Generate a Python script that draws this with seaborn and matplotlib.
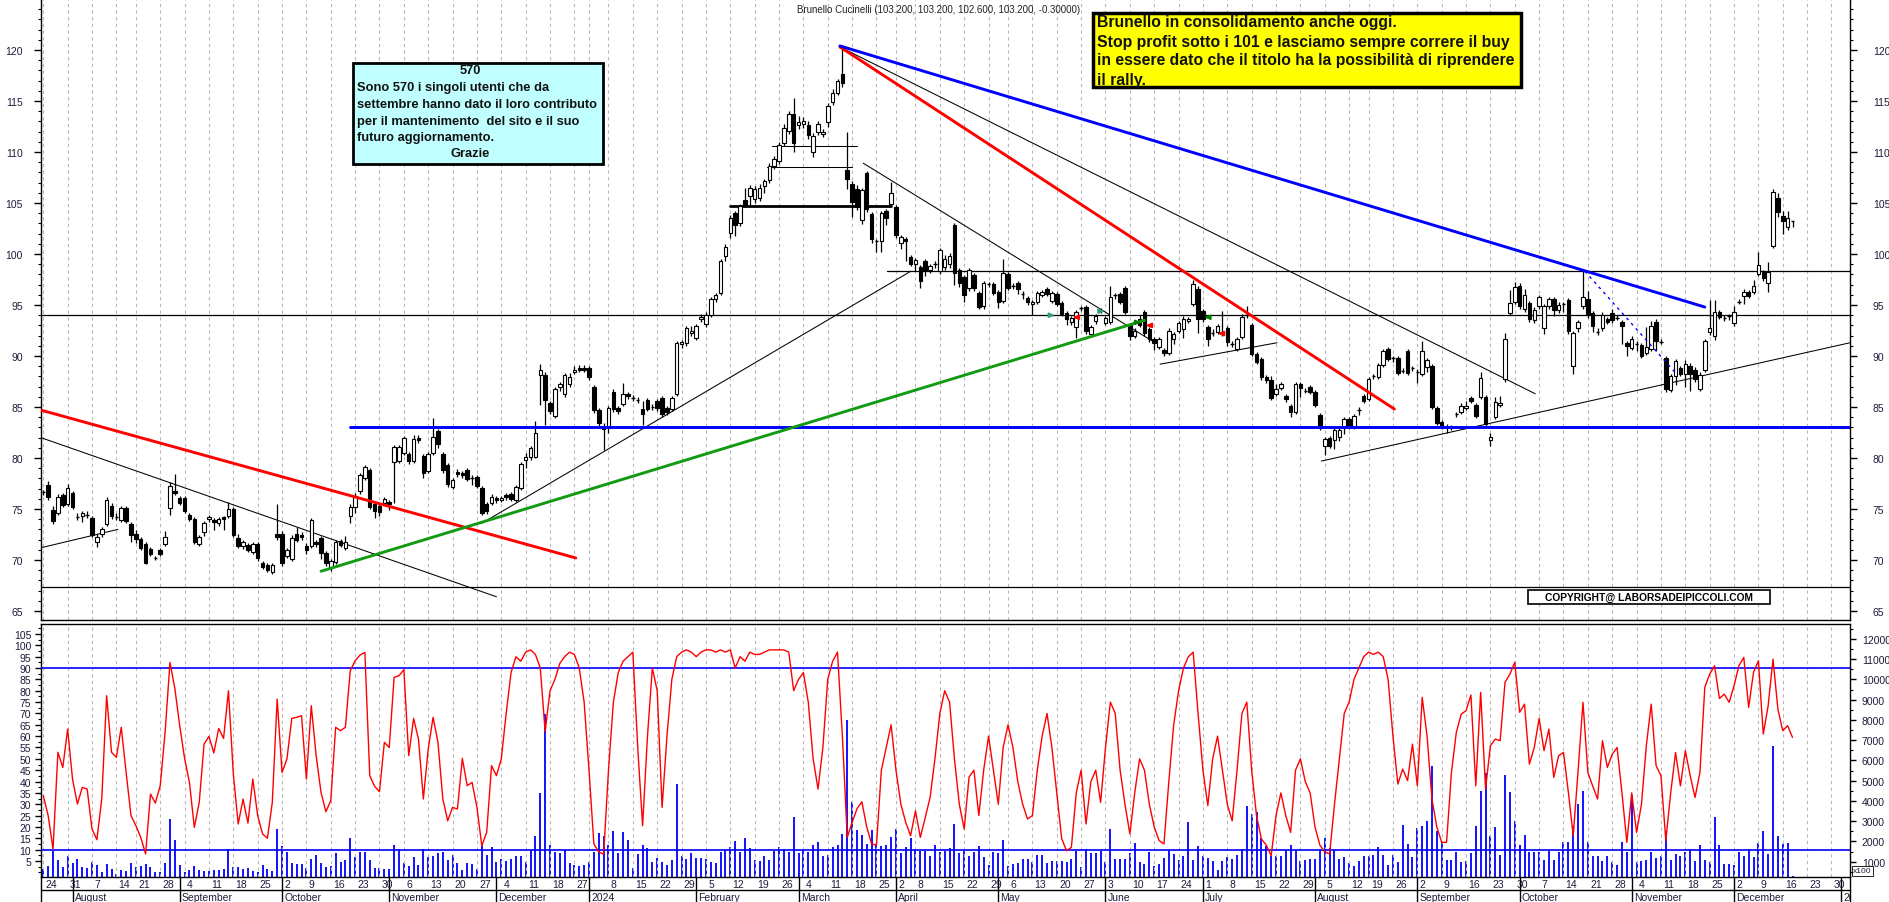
import numpy as np
import pandas as pd
import matplotlib
matplotlib.use("Agg")
import matplotlib.pyplot as plt
import seaborn as sns
from matplotlib.patches import Rectangle
from matplotlib.ticker import FixedLocator, MultipleLocator
from matplotlib import font_manager as fm

# ---------------- data ----------------
title_text = "Brunello Cucinelli (103.200, 103.200, 102.600, 103.200, -0.30000)"
holidays = ["2023-08-15", "2023-12-25", "2023-12-26", "2024-01-01",
            "2024-03-29", "2024-04-01", "2024-05-01", "2024-08-15"]
month_names = ["", "January", "February", "March", "April", "May", "June", "July",
               "August", "September", "October", "November", "December"]

opens = [
 76.6, 77.4, 74.9, 74.6, 76.4, 75.5, 76.6, 74.3, 74.3, 74.5,
 74.1, 71.8, 72.6, 73.5, 75.3, 74.3, 73.9, 75.1, 73.5, 72.6,
 72.1, 71.6, 71.1, 70.2, 71.0, 71.6, 75.1, 76.8, 76.1, 76.1,
 74.4, 74.0, 71.6, 72.7, 74.0, 73.9, 73.6, 74.2, 74.3, 75.0,
 72.2, 71.4, 71.5, 70.8, 71.6, 69.7, 69.5, 68.8, 72.6, 72.6,
 70.4, 70.1, 72.6, 72.5, 71.4, 71.4, 71.8, 72.2, 70.7, 69.3,
 69.8, 71.9, 71.2, 74.3, 75.2, 76.8, 78.0, 78.8, 75.5, 75.3,
 75.6, 75.7, 79.6, 79.7, 80.5, 80.4, 79.7, 82.0, 80.2, 78.7,
 80.5, 82.6, 80.4, 79.3, 77.2, 78.6, 78.5, 78.8, 78.1, 78.1,
 77.1, 75.5, 75.6, 76.1, 75.9, 76.4, 76.5, 75.9, 77.1, 79.8,
 80.1, 80.1, 88.1, 88.1, 85.4, 84.1, 87.0, 86.3, 87.3, 88.4,
 88.8, 88.8, 88.8, 87.0, 84.7, 82.8, 82.9, 86.5, 84.9, 85.3,
 86.3, 86.0, 85.8, 84.8, 85.7, 85.1, 85.6, 85.9, 84.9, 84.8,
 86.3, 91.2, 91.3, 92.3, 91.8, 93.6, 93.1, 94.0, 95.6, 96.2,
 99.8, 102.1, 104.0, 103.0, 105.3, 105.7, 105.4, 105.5, 106.7, 107.3,
 108.6, 109.1, 110.9, 112.1, 113.7, 112.6, 112.7, 112.6, 110.0, 112.0,
 111.8, 112.9, 114.9, 115.8, 117.6, 108.2, 106.9, 106.4, 103.3, 107.9,
 103.9, 101.2, 101.3, 104.2, 104.9, 104.6, 101.1, 101.5, 99.7, 99.0,
 98.7, 99.3, 98.4, 99.1, 98.3, 98.7, 99.0, 102.8, 98.4, 97.7,
 96.7, 97.9, 96.2, 94.9, 97.0, 97.1, 96.3, 95.4, 98.0, 97.0,
 97.2, 96.2, 95.7, 95.1, 95.3, 96.0, 96.6, 95.4, 96.1, 95.2,
 94.2, 93.3, 92.8, 94.6, 94.8, 92.2, 93.4, 94.5, 93.2, 93.3,
 95.9, 96.1, 96.7, 93.0, 92.0, 93.6, 94.3, 92.6, 91.7, 90.9,
 90.6, 90.3, 91.7, 92.5, 92.6, 93.4, 95.1, 96.6, 94.4, 92.8,
 92.4, 92.4, 92.4, 92.7, 91.3, 90.7, 91.9, 94.1, 93.0, 90.2,
 89.7, 87.9, 87.6, 86.3, 86.9, 86.1, 85.1, 84.5, 87.3, 86.7,
 87.0, 86.5, 84.2, 81.2, 82.0, 81.8, 82.1, 83.0, 83.8, 83.0,
 84.6, 86.1, 85.8, 87.9, 87.9, 89.1, 90.7, 89.7, 89.8, 88.6,
 90.5, 88.7, 88.5, 88.2, 88.9, 89.0, 84.9, 83.5, 83.1, 82.9,
 84.2, 84.5, 84.9, 85.9, 85.2, 86.0, 86.0, 81.8, 84.0, 85.2,
 87.7, 94.2, 95.3, 96.9, 94.6, 95.2, 93.5, 94.9, 92.7, 94.9,
 95.6, 94.5, 95.0, 95.5, 89.0, 92.7, 94.9, 95.6, 94.2, 92.5,
 92.7, 93.6, 94.2, 93.8, 93.3, 91.3, 90.8, 91.3, 91.1, 90.3,
 90.7, 93.3, 91.5, 89.8, 86.7, 88.0, 88.8, 88.2, 89.0, 88.6,
 86.8, 88.6, 92.4, 92.0, 94.3, 93.8, 93.8, 93.2, 95.4, 95.9,
 96.3, 96.3, 98.0, 98.2, 97.2, 100.8, 105.5, 103.7, 102.6, 103.2]

highs = [
 76.9, 77.7, 75.3, 76.5, 76.6, 77.5, 76.8, 74.6, 74.8, 74.8,
 74.3, 72.6, 73.2, 76.2, 75.6, 74.6, 75.3, 75.3, 73.7, 72.9,
 72.3, 71.8, 71.3, 70.4, 71.2, 72.8, 77.6, 78.4, 76.3, 76.3,
 74.6, 74.2, 72.5, 73.8, 74.4, 74.1, 74.2, 74.3, 75.7, 75.2,
 72.6, 72.0, 71.7, 71.8, 71.8, 69.9, 69.7, 69.7, 75.5, 72.8,
 71.2, 72.5, 73.2, 72.7, 71.7, 74.1, 72.0, 72.4, 70.9, 70.1,
 72.0, 72.1, 72.4, 75.5, 76.6, 78.5, 79.3, 79.0, 75.7, 75.5,
 76.2, 75.9, 81.3, 81.3, 82.2, 80.6, 82.3, 82.3, 80.4, 80.6,
 83.9, 82.8, 80.6, 79.5, 78.0, 78.9, 78.7, 79.0, 78.3, 78.3,
 77.3, 75.7, 76.5, 76.3, 76.3, 76.6, 76.7, 77.4, 79.6, 80.5,
 81.2, 83.6, 89.2, 88.4, 85.6, 87.0, 87.5, 88.3, 88.3, 89.0,
 89.1, 89.1, 89.0, 87.2, 84.9, 83.4, 85.1, 86.8, 85.1, 87.4,
 86.5, 86.2, 86.0, 85.6, 85.9, 85.3, 85.8, 86.1, 85.1, 86.1,
 91.5, 91.6, 92.9, 92.9, 93.1, 94.1, 94.3, 95.8, 96.2, 99.5,
 101.0, 103.8, 104.2, 104.9, 106.5, 106.8, 106.7, 106.9, 107.4, 108.9,
 109.6, 111.0, 112.7, 114.0, 115.3, 113.5, 113.4, 113.0, 111.9, 113.0,
 112.3, 114.8, 116.2, 117.2, 120.5, 112.0, 107.2, 106.8, 106.5, 108.1,
 104.1, 101.5, 104.2, 104.4, 107.1, 104.8, 101.9, 101.7, 99.9, 99.6,
 98.9, 99.5, 99.0, 99.3, 100.6, 99.9, 100.1, 103.0, 98.6, 97.9,
 98.6, 98.1, 96.4, 97.4, 97.3, 97.3, 96.5, 99.5, 98.2, 97.2,
 97.4, 96.4, 95.9, 95.5, 96.4, 96.5, 96.8, 96.4, 96.3, 95.4,
 94.4, 93.9, 94.5, 94.9, 95.0, 93.0, 94.1, 94.7, 93.9, 96.9,
 96.2, 96.3, 96.9, 93.2, 92.7, 94.0, 94.5, 92.8, 91.9, 91.9,
 90.8, 92.7, 92.4, 93.4, 93.9, 93.8, 97.5, 96.9, 94.6, 93.0,
 92.6, 93.1, 94.4, 92.9, 91.5, 91.9, 94.1, 94.9, 93.2, 90.4,
 89.9, 88.1, 88.0, 87.3, 87.5, 86.3, 85.3, 87.5, 87.5, 86.9,
 87.2, 86.7, 84.4, 82.1, 82.2, 82.9, 82.9, 84.0, 84.0, 84.3,
 85.0, 86.3, 87.9, 88.2, 89.3, 90.7, 90.9, 90.0, 90.0, 88.8,
 90.7, 89.0, 88.7, 91.5, 89.8, 89.2, 85.1, 83.7, 83.3, 83.2,
 84.5, 85.4, 85.6, 86.1, 85.4, 88.4, 86.2, 82.5, 86.0, 86.1,
 92.3, 96.5, 97.3, 97.2, 96.6, 95.4, 94.8, 96.0, 95.1, 95.8,
 95.8, 95.3, 95.3, 95.7, 92.5, 93.5, 98.3, 96.4, 94.4, 92.7,
 94.3, 93.8, 94.6, 94.0, 93.5, 91.5, 92.0, 91.5, 91.3, 92.8,
 93.4, 93.6, 91.7, 90.0, 88.2, 89.7, 89.0, 89.6, 89.3, 88.9,
 88.4, 91.7, 95.5, 95.5, 94.5, 94.0, 94.1, 94.9, 95.6, 96.6,
 96.5, 97.5, 100.2, 98.4, 99.2, 106.4, 106.0, 104.2, 104.2, 103.2]

lows = [
 76.4, 75.9, 73.5, 74.4, 75.2, 75.3, 75.0, 73.9, 73.7, 74.1,
 72.3, 71.3, 72.3, 73.3, 74.0, 73.9, 73.7, 73.6, 71.8, 71.7,
 71.0, 69.6, 70.4, 70.0, 70.4, 71.4, 74.4, 76.4, 75.4, 74.6,
 73.8, 71.6, 71.4, 72.4, 73.7, 72.9, 73.3, 72.9, 74.1, 72.3,
 71.2, 71.1, 70.8, 70.6, 69.9, 69.1, 68.8, 68.6, 72.0, 69.4,
 70.2, 69.9, 71.8, 72.0, 70.6, 71.2, 71.3, 70.1, 69.4, 68.9,
 69.6, 71.3, 71.0, 73.6, 74.6, 76.5, 77.8, 75.0, 74.1, 74.3,
 75.4, 74.9, 75.6, 79.5, 80.3, 79.4, 79.5, 81.5, 78.0, 78.5,
 80.3, 81.0, 78.5, 77.2, 77.0, 78.1, 78.0, 77.7, 77.4, 77.1,
 74.4, 74.5, 75.4, 75.6, 75.7, 75.9, 75.8, 75.7, 76.9, 79.0,
 79.8, 80.0, 85.2, 83.2, 84.3, 83.9, 86.6, 86.0, 87.0, 88.2,
 88.4, 88.4, 87.6, 84.4, 83.1, 80.8, 82.5, 84.5, 84.3, 85.1,
 85.8, 85.6, 85.4, 83.2, 84.6, 84.7, 84.6, 84.0, 84.2, 84.6,
 86.1, 90.8, 91.0, 92.0, 91.6, 93.3, 92.8, 93.8, 95.3, 96.0,
 99.3, 101.6, 101.8, 102.7, 104.6, 104.7, 105.0, 105.2, 106.0, 107.0,
 108.3, 108.8, 110.6, 111.8, 110.0, 112.3, 112.4, 111.3, 109.5, 111.7,
 111.5, 112.5, 114.6, 115.6, 116.4, 106.4, 103.6, 104.3, 102.9, 104.1,
 101.1, 100.2, 100.2, 102.8, 104.7, 101.6, 100.5, 99.3, 98.8, 98.3,
 96.7, 97.8, 98.1, 98.6, 98.0, 98.4, 98.6, 97.0, 96.8, 95.3,
 96.4, 96.4, 94.6, 94.6, 96.8, 96.0, 94.7, 95.2, 96.5, 96.6,
 96.1, 95.6, 95.0, 94.0, 95.1, 95.8, 95.9, 95.2, 94.9, 93.9,
 93.0, 93.0, 91.8, 94.4, 92.2, 92.0, 93.1, 94.2, 93.0, 93.1,
 95.6, 95.1, 94.1, 91.6, 91.8, 92.8, 92.0, 91.4, 90.6, 90.7,
 90.0, 90.1, 91.2, 92.3, 91.8, 93.2, 94.9, 92.3, 93.3, 91.0,
 92.0, 92.2, 92.0, 91.0, 90.9, 90.5, 91.7, 93.7, 90.0, 89.2,
 87.6, 87.4, 85.7, 86.1, 86.7, 85.5, 84.0, 84.3, 86.0, 86.4,
 86.3, 85.0, 82.7, 80.3, 81.0, 80.9, 81.7, 82.4, 82.8, 82.8,
 84.2, 85.4, 85.6, 87.7, 87.7, 88.9, 89.5, 89.4, 88.1, 88.3,
 88.1, 88.5, 87.4, 88.0, 88.4, 84.8, 83.2, 82.8, 82.5, 82.7,
 84.0, 84.3, 84.7, 85.4, 83.9, 85.8, 83.1, 81.2, 83.8, 85.0,
 87.5, 94.0, 95.1, 94.6, 94.3, 93.3, 93.2, 94.6, 92.2, 94.6,
 93.9, 94.2, 94.3, 92.2, 88.2, 92.4, 94.6, 93.7, 92.4, 92.1,
 92.5, 93.1, 93.2, 93.5, 91.2, 90.0, 90.6, 90.5, 89.8, 90.1,
 90.5, 90.5, 91.2, 86.5, 86.5, 87.2, 88.0, 87.0, 86.6, 87.5,
 86.6, 88.4, 92.1, 91.6, 93.6, 93.4, 93.5, 92.9, 95.1, 95.1,
 95.7, 96.1, 97.8, 97.4, 96.3, 100.6, 103.6, 102.0, 102.4, 102.6]

closes = [
 76.7, 76.2, 73.8, 76.2, 75.4, 77.1, 75.2, 74.2, 74.6, 74.4,
 72.5, 72.3, 73.0, 75.9, 74.3, 74.2, 75.1, 73.8, 72.5, 72.1,
 71.2, 69.7, 70.6, 70.2, 70.6, 72.3, 77.3, 76.6, 75.6, 74.8,
 74.0, 71.8, 72.3, 73.6, 74.2, 73.7, 74.0, 74.0, 75.0, 72.5,
 71.4, 71.8, 71.0, 71.6, 70.2, 69.3, 69.0, 69.5, 72.3, 69.7,
 71.0, 72.2, 72.0, 72.3, 71.0, 73.9, 71.6, 70.7, 69.7, 69.9,
 71.8, 71.5, 71.8, 75.2, 76.3, 78.3, 79.1, 75.2, 74.8, 74.7,
 76.0, 75.5, 81.1, 81.1, 82.0, 79.7, 81.9, 81.8, 78.5, 80.4,
 82.1, 81.4, 78.8, 77.5, 77.8, 78.4, 78.3, 77.9, 78.0, 77.3,
 74.6, 74.8, 76.2, 75.9, 76.1, 76.2, 76.0, 77.2, 79.4, 80.1,
 81.0, 82.5, 88.6, 85.7, 84.6, 86.8, 87.3, 88.1, 87.9, 88.6,
 88.6, 88.6, 87.9, 84.7, 83.4, 83.0, 84.9, 84.8, 84.6, 86.3,
 86.1, 85.9, 85.7, 84.3, 84.8, 85.0, 84.9, 84.3, 84.5, 85.9,
 91.3, 91.4, 92.7, 92.5, 92.9, 93.8, 94.0, 95.6, 96.0, 99.3,
 100.7, 103.5, 102.8, 104.7, 104.8, 106.5, 106.4, 106.5, 107.2, 108.6,
 109.3, 110.7, 112.4, 113.7, 110.9, 112.9, 113.0, 111.7, 111.6, 112.7,
 112.0, 114.5, 115.8, 117.0, 116.8, 107.4, 105.1, 104.6, 106.3, 104.4,
 101.5, 101.3, 104.0, 103.5, 106.0, 101.9, 101.7, 101.3, 99.0, 99.4,
 97.4, 98.4, 98.8, 99.0, 100.4, 99.5, 99.8, 98.1, 97.2, 96.0,
 98.4, 96.7, 94.8, 97.2, 97.1, 96.2, 95.3, 98.1, 96.7, 96.9,
 96.6, 96.1, 95.3, 95.3, 96.2, 96.3, 96.1, 96.2, 95.1, 94.1,
 93.6, 93.7, 94.3, 94.7, 92.5, 92.8, 93.9, 94.4, 93.7, 95.8,
 96.0, 95.3, 94.3, 92.0, 92.5, 93.0, 92.3, 91.7, 91.3, 91.7,
 90.3, 92.5, 92.2, 93.2, 93.6, 93.6, 97.1, 93.6, 93.6, 91.7,
 92.3, 92.9, 92.3, 91.4, 91.2, 91.7, 93.8, 94.0, 90.2, 89.4,
 87.9, 87.6, 85.9, 86.8, 87.3, 85.8, 84.5, 87.3, 86.9, 86.6,
 86.5, 85.2, 82.9, 81.9, 81.2, 82.7, 82.7, 83.8, 83.0, 84.1,
 84.7, 85.6, 87.7, 88.0, 89.1, 90.5, 89.7, 89.8, 88.3, 88.5,
 88.3, 88.8, 88.4, 90.5, 89.6, 85.0, 83.4, 83.0, 83.0, 83.0,
 84.3, 85.1, 85.1, 85.6, 84.1, 87.8, 83.3, 82.1, 85.5, 85.4,
 91.7, 95.2, 96.8, 94.9, 96.0, 93.6, 94.5, 95.8, 94.9, 95.6,
 94.5, 95.0, 95.1, 92.5, 92.3, 93.3, 95.8, 94.0, 92.9, 92.4,
 94.0, 93.3, 93.5, 93.7, 92.9, 91.0, 91.7, 91.2, 90.0, 90.9,
 92.9, 91.5, 91.4, 86.8, 88.0, 89.5, 88.2, 89.2, 88.2, 87.7,
 88.1, 91.5, 92.7, 94.3, 93.8, 93.7, 93.9, 94.3, 95.3, 96.3,
 95.9, 96.9, 98.9, 97.6, 98.2, 106.1, 104.1, 103.2, 103.5, 103.2]

oscillator = [
 33.8, 25.0, 10.3, 52.9, 46.2, 63.1, 41.1, 30.1, 37.4, 36.7,
 19.1, 14.4, 32.3, 77.8, 52.9, 50.7, 63.9, 44.0, 25.0, 20.6,
 15.4, 8.1, 34.5, 30.5, 38.2, 61.7, 92.5, 81.0, 64.6, 50.2,
 39.6, 19.8, 30.8, 56.5, 59.9, 52.6, 63.4, 59.0, 80.0, 43.3,
 21.3, 32.3, 21.7, 41.1, 25.0, 16.9, 15.0, 30.8, 76.3, 44.0,
 49.9, 67.8, 68.3, 69.0, 41.1, 73.4, 51.4, 35.2, 26.7, 31.6,
 63.9, 62.4, 63.9, 88.8, 93.2, 95.7, 96.9, 42.6, 37.9, 35.5,
 57.3, 55.0, 85.9, 86.6, 89.3, 51.4, 67.8, 58.7, 32.3, 54.3,
 68.3, 57.3, 32.3, 22.7, 28.6, 27.9, 50.2, 38.2, 39.6, 28.6,
 11.7, 17.6, 47.0, 42.6, 50.0, 70.0, 88.0, 95.0, 93.0, 97.0,
 98.0, 96.0, 90.0, 62.0, 80.0, 85.0, 92.0, 95.0, 97.0, 96.0,
 90.0, 75.0, 45.0, 12.5, 9.0, 8.0, 45.0, 75.0, 88.0, 93.0,
 95.0, 97.0, 55.0, 20.5, 60.0, 90.0, 80.0, 28.6, 60.0, 85.0,
 95.0, 97.0, 98.0, 97.0, 95.0, 97.0, 98.0, 98.0, 97.0, 98.0,
 97.0, 98.0, 90.0, 95.0, 93.0, 97.0, 96.0, 96.0, 97.0, 98.0,
 98.0, 98.0, 98.0, 97.0, 80.0, 85.0, 88.0, 75.0, 50.0, 36.7,
 55.0, 85.0, 93.0, 97.0, 60.0, 15.4, 22.0, 28.0, 31.1, 20.0,
 12.5, 12.0, 45.0, 55.0, 65.0, 45.0, 30.1, 22.0, 16.1, 27.1,
 15.4, 24.0, 33.0, 50.0, 70.0, 80.0, 75.0, 50.0, 30.0, 19.1,
 42.0, 45.0, 25.0, 45.0, 60.0, 45.0, 30.0, 55.0, 65.0, 55.0,
 40.0, 30.0, 23.5, 25.0, 45.0, 60.0, 70.0, 55.0, 35.0, 15.0,
 9.5, 11.0, 35.0, 45.0, 21.3, 40.0, 45.0, 30.8, 55.0, 75.0,
 70.0, 45.0, 30.0, 16.9, 35.0, 50.0, 45.0, 30.0, 20.0, 14.0,
 12.5, 40.0, 65.0, 80.0, 90.0, 95.0, 97.0, 70.0, 45.0, 29.4,
 50.0, 60.0, 45.0, 30.0, 22.7, 45.0, 70.0, 75.0, 45.0, 25.0,
 14.7, 12.0, 7.3, 25.0, 35.0, 25.0, 17.6, 45.0, 50.0, 40.0,
 35.0, 20.0, 12.0, 9.0, 8.1, 30.0, 50.0, 70.0, 75.0, 85.0,
 90.0, 95.0, 97.0, 96.0, 97.0, 95.0, 85.0, 60.0, 38.9, 45.5,
 40.4, 56.5, 38.1, 77.1, 60.0, 32.3, 20.0, 13.2, 13.2, 44.0,
 61.6, 69.7, 71.2, 78.1, 38.1, 79.3, 36.7, 55.8, 58.7, 58.0,
 83.7, 87.3, 92.5, 70.5, 74.1, 47.7, 55.0, 67.8, 53.6, 63.1,
 41.8, 51.4, 52.8, 35.2, 16.1, 45.0, 74.9, 44.0, 38.0, 32.3,
 58.0, 46.2, 52.0, 55.0, 35.0, 13.2, 35.0, 17.6, 30.0, 55.8,
 74.1, 47.0, 42.6, 14.0, 35.0, 52.8, 38.1, 53.6, 42.6, 33.0,
 44.0, 81.5, 87.3, 91.0, 76.6, 78.5, 74.9, 82.2, 91.0, 94.7,
 72.7, 88.1, 93.2, 60.9, 73.4, 93.9, 71.9, 62.4, 64.6, 59.4]

volume = [
 634, 800, 1540, 1080, 720, 1290, 930, 1130, 720, 670,
 960, 830, 500, 880, 630, 390, 600, 550, 920, 750,
 770, 880, 720, 470, 500, 930, 3110, 2090, 830, 500,
 600, 770, 600, 550, 550, 600, 600, 630, 1620, 720,
 720, 630, 670, 550, 500, 830, 630, 550, 2610, 1790,
 1490, 930, 880, 880, 670, 1130, 1330, 930, 750, 770,
 1430, 1000, 1100, 2170, 1240, 1460, 1460, 1080, 670, 690,
 630, 630, 1820, 1620, 930, 800, 1240, 850, 1620, 1240,
 1290, 1430, 1490, 1080, 1330, 930, 600, 930, 880, 630,
 1920, 1330, 1700, 960, 1130, 1050, 1130, 1260, 1260, 960,
 1590, 2250, 4390, 8300, 1820, 1490, 1430, 1590, 930, 830,
 770, 830, 1000, 1460, 2420, 2250, 1820, 2510, 1430, 2480,
 2090, 670, 1380, 1820, 1670, 1000, 1180, 1000, 850, 1100,
 4840, 1260, 1130, 1430, 1180, 1180, 1130, 1000, 930, 1490,
 1590, 1710, 2040, 1490, 2150, 1660, 1100, 1050, 1260, 1100,
 1540, 1710, 1630, 1490, 3190, 1430, 1590, 1490, 1820, 1950,
 1260, 1330, 1710, 1820, 2370, 8000, 3960, 2580, 2320, 1870,
 2580, 1820, 1760, 1820, 2200, 2610, 1430, 1710, 2150, 1590,
 1540, 1540, 1260, 1820, 1490, 1540, 1660, 2860, 1430, 1540,
 1260, 1490, 1790, 1210, 830, 1490, 1430, 2090, 770, 880,
 930, 1130, 1130, 960, 1330, 1330, 930, 1050, 1050, 1050,
 1000, 1130, 1540, 720, 1630, 1430, 1430, 1540, 960, 2610,
 1130, 1130, 1130, 1430, 1920, 1000, 880, 1490, 770, 880,
 1160, 1590, 1380, 1100, 1260, 2980, 1100, 1790, 1260, 1160,
 1050, 600, 1050, 1210, 1130, 1330, 1630, 3770, 3350, 3470,
 2150, 1760, 1300, 1260, 1260, 1590, 1820, 1590, 1050, 1100,
 1130, 1130, 1590, 2150, 1660, 1590, 1130, 1210, 930, 770,
 1050, 1260, 1260, 1330, 1710, 1330, 830, 1330, 1000, 2810,
 1870, 1210, 2650, 2740, 3000, 5740, 2530, 2040, 1100, 1100,
 1490, 960, 1050, 1430, 2740, 4510, 5380, 2280, 2690, 1330,
 5280, 4420, 3030, 1820, 2320, 1490, 1460, 1460, 1100, 1540,
 1100, 1460, 1950, 1950, 2780, 3850, 4500, 1950, 1260, 1260,
 1050, 1260, 1000, 830, 1950, 1490, 4290, 1000, 1050, 1100,
 1460, 1200, 1300, 2500, 1100, 1400, 1300, 1500, 1600, 1050,
 1800, 1100, 1000, 3200, 1800, 900, 900, 850, 1500, 1300,
 1600, 1250, 1900, 2500, 1400, 6700, 2250, 1850, 1900, 300]

# drawn trend lines: (x0, y0, x1, y1) in (trading-day index, price)
red_lines = [(-0.5, 84.7, 109.3, 70.2), (163.5, 120.3, 277.3, 84.8)]
blue_lines = [(62.9, 83.0, 370.8, 83.0), (163.5, 120.4, 341.0, 94.8)]
green_lines = [(57.0, 68.9, 226.0, 93.5)]
thin_black_lines = [(-0.5, 82.0, 93.0, 66.4), (-0.5, 71.2, 15.3, 73.0),
                    (90.0, 73.6, 178.0, 98.3), (163.5, 120.3, 306.2, 86.3),
                    (168.3, 108.9, 227.5, 91.5), (229.2, 89.2, 253.2, 91.3),
                    (262.3, 79.7, 370.8, 91.3), (148.5, 108.5, 166.0, 108.5),
                    (149.5, 110.6, 167.0, 110.6)]
level_lines = [(-0.5, 94.0, 370.8, 94.0), (173.2, 98.3, 370.8, 98.3),
               (-0.5, 67.4, 370.8, 67.4)]
thick_black_lines = [(141.0, 104.7, 174.0, 104.7)]
dotted_blue_lines = [(316.4, 98.3, 334.9, 88.4)]
arrows = [(207.1, 94.0, 1, "#30a080"), (211.8, 93.8, -1, "red"),
          (217.3, 94.4, 1, "#30a080"), (224.8, 93.3, 1, "green"),
          (226.8, 93.0, -1, "red"), (238.8, 93.8, -1, "green"),
          (241.6, 92.2, -1, "red")]
osc_levels = [90, 10]

# ---------------- figure ----------------
sns.set_theme(style="white")
plt.rcParams["font.family"] = ["Liberation Sans", "DejaVu Sans"]
names = {f.name for f in fm.fontManager.ttflist}
NARROW = "Liberation Sans Narrow" if "Liberation Sans Narrow" in names else "Liberation Sans"

W, H = 1890, 903
fig = plt.figure(figsize=(W / 100, H / 100), dpi=100)
fig.patch.set_facecolor("white")


def px_axes(x0, y0, x1, y1):
    return fig.add_axes([x0 / W, 1 - y1 / H, (x1 - x0) / W, (y1 - y0) / H])


XMIN, XMAX = -0.47, 370.8
ax = px_axes(41, 0, 1850, 621)
axl = px_axes(41, 625, 1850, 878.3)
axd = px_axes(41, 878.3, 1850, 903)

# calendar of trading days (index axis)
past = pd.bdate_range("2023-07-24", "2024-12-18")
past = past[~past.isin(pd.to_datetime(holidays))]
future = pd.bdate_range("2024-12-19", "2025-01-20")
days = past.append(future)
pos = pd.Series(np.arange(len(days)), index=days)
week_first = pos.groupby(days.to_period("W-SUN")).min()
month_first = pos.groupby(days.to_period("M")).min()

LABEL_COLOR = "#1c1c3a"
GRID_COLOR = "#b8b8b8"

for a in (ax, axl):
    a.set_xlim(XMIN, XMAX)
    a.set_facecolor("white")
    for s in a.spines.values():
        s.set_color("black")
        s.set_linewidth(1.0)
    a.tick_params(axis="x", which="both", bottom=False, top=False,
                  labelbottom=False)
    for w in week_first.values:
        if XMIN < w < XMAX:
            a.axvline(w, color=GRID_COLOR, lw=0.8, dashes=(3, 3), zorder=0)

# ---------- main price panel ----------
ax.set_ylim(64.12, 125.0)
ax.spines["top"].set_visible(False)
ax.yaxis.set_major_locator(FixedLocator(list(range(65, 121, 5))))
ax.yaxis.set_minor_locator(MultipleLocator(1))
ax.tick_params(axis="y", which="major", left=True, right=False, labelleft=True,
               direction="out", length=5, width=1, color="black",
               labelsize=7.5, labelcolor=LABEL_COLOR, pad=8)
ax.tick_params(axis="y", which="minor", left=True, right=False,
               direction="out", length=2.5, width=0.8, color="black")
ax2 = ax.twinx()
ax2.set_ylim(ax.get_ylim())
ax2.set_xlim(XMIN, XMAX)
for s in ax2.spines.values():
    s.set_visible(False)
ax2.yaxis.set_major_locator(FixedLocator(list(range(65, 121, 5))))
ax2.yaxis.set_minor_locator(MultipleLocator(1))
ax2.tick_params(axis="y", which="major", right=True, left=False, labelright=True,
                direction="out", length=5, width=1, color="black",
                labelsize=7.5, labelcolor=LABEL_COLOR, pad=11.5)
ax2.tick_params(axis="y", which="minor", right=True, direction="out",
                length=2.5, width=0.8, color="black")
ax2.grid(False)

o = np.array(opens); hi = np.array(highs); lo = np.array(lows); c = np.array(closes)
idx = np.arange(len(c))
ax.vlines(idx, lo, hi, color="black", lw=0.9, zorder=4)
for i in idx:
    b = min(o[i], c[i]); hgt = abs(c[i] - o[i])
    if hgt < 0.12:
        ax.hlines(c[i], i - 0.36, i + 0.36, color="black", lw=1.0, zorder=5)
    else:
        ax.add_patch(Rectangle((i - 0.36, b), 0.72, hgt,
                               facecolor="white" if c[i] > o[i] else "black",
                               edgecolor="black", lw=0.8, zorder=5))

for (x0, y0, x1, y1) in level_lines:
    ax.plot([x0, x1], [y0, y1], color="black", lw=0.9, zorder=2)
for (x0, y0, x1, y1) in thin_black_lines:
    ax.plot([x0, x1], [y0, y1], color="black", lw=0.75, zorder=3)
for (x0, y0, x1, y1) in thick_black_lines:
    ax.plot([x0, x1], [y0, y1], color="black", lw=2.0, zorder=3)
for (x0, y0, x1, y1) in red_lines:
    ax.plot([x0, x1], [y0, y1], color="#ff0000", lw=2.1, zorder=6)
for (x0, y0, x1, y1) in blue_lines:
    ax.plot([x0, x1], [y0, y1], color="#0000ff", lw=2.1, zorder=6)
for (x0, y0, x1, y1) in green_lines:
    ax.plot([x0, x1], [y0, y1], color="#139a13", lw=2.1, zorder=6)
for (x0, y0, x1, y1) in dotted_blue_lines:
    ax.plot([x0, x1], [y0, y1], color="#0000ff", lw=1.0, dashes=(2, 3), zorder=6)
for (xa, ya, d, col) in arrows:
    ax.annotate("", xy=(xa + d * 1.0, ya), xytext=(xa - d * 1.0, ya),
                arrowprops=dict(arrowstyle="-|>", color=col, lw=1.6,
                                mutation_scale=6), zorder=7)

# ---------- oscillator / volume panel ----------
axl.set_ylim(-2.18, 109.4)
axl.yaxis.set_major_locator(FixedLocator(list(range(5, 106, 5))))
axl.yaxis.set_minor_locator(MultipleLocator(2.5))
axl.tick_params(axis="y", which="major", left=True, right=False, labelleft=True,
                direction="out", length=4, width=1, color="black",
                labelsize=7.5, labelcolor=LABEL_COLOR, pad=3)
axl.tick_params(axis="y", which="minor", left=True, right=False,
                direction="out", length=2, width=0.8, color="black")
axr = axl.twinx()
axr.set_xlim(XMIN, XMAX)
axr.set_ylim(226, 12741)
for s in axr.spines.values():
    s.set_visible(False)
axr.yaxis.set_major_locator(FixedLocator(list(range(1000, 12001, 1000))))
axr.yaxis.set_minor_locator(MultipleLocator(500))
axr.tick_params(axis="y", which="major", right=True, left=False, labelright=True,
                direction="out", length=4, width=1, color="black",
                labelsize=7.5, labelcolor=LABEL_COLOR, pad=4.5)
axr.tick_params(axis="y", which="minor", right=True, direction="out",
                length=2, width=0.8, color="black")
axr.grid(False)

vidx = np.arange(len(volume))
axr.vlines(vidx, 0, volume, color="#0000ff", lw=1.3, zorder=2)
for lv in osc_levels:
    axl.axhline(lv, color="#0000ff", lw=1.2, zorder=3)
axl.set_zorder(axr.get_zorder() + 1)
axl.patch.set_visible(False)
sns.lineplot(x=np.arange(len(oscillator)), y=oscillator, ax=axl,
             color="#ff0000", lw=1.0, zorder=4)
axl.set_xlabel(""); axl.set_ylabel("")
axl.set_xlim(XMIN, XMAX)

# ---------- date rows ----------
axd.set_xlim(XMIN, XMAX)
axd.set_ylim(0, 1)
axd.axis("off")
axd.plot([XMIN, XMAX], [0.5, 0.5], color="black", lw=1.0, clip_on=False)
axd.plot([XMIN, XMIN], [0, 1], color="black", lw=1.0, clip_on=False)
axd.plot([XMAX, XMAX], [0, 1], color="black", lw=1.0, clip_on=False)
for d, w in week_first.items():
    if not (XMIN <= w < XMAX):
        continue
    dt = days[w]
    if dt.month == 1 and dt.day <= 3 and dt.year == 2024:
        continue
    axd.text(w + 0.45, 0.74, str(dt.day), ha="left", va="center",
             fontsize=7.5, color=LABEL_COLOR, clip_on=True)
for m, w in month_first.items():
    if not (0 < w < XMAX):
        continue
    dt = days[w]
    axd.plot([w, w], [0, 1], color="black", lw=1.0)
    lab = str(dt.year) if dt.month == 1 else month_names[dt.month]
    axd.text(w + 0.45, 0.2, lab, ha="left", va="center", fontsize=7.5,
             color=LABEL_COLOR, clip_on=True)

fig.text(1853 / W, 1 - 872 / H, "x100", fontsize=6, color=LABEL_COLOR,
         ha="left", va="center",
         bbox=dict(boxstyle="square,pad=0.15", fc="white", ec="black", lw=0.6))

# ---------- texts / boxes ----------
fig.text(797 / W, 1 - 10 / H, title_text, fontsize=7.0, family=NARROW,
         color="#222222", ha="left", va="center")


def fig_box(x0, y0, x1, y1, fc, lw):
    fig.add_artist(Rectangle((x0 / W, 1 - y1 / H), (x1 - x0) / W, (y1 - y0) / H,
                             transform=fig.transFigure, facecolor=fc,
                             edgecolor="black", lw=lw, zorder=20))


fig_box(353, 64, 603, 165, "#c0ffff", 2.0)
cyan_lines = [("570", 70.5, "c"),
              ("Sono 570 i singoli utenti che da", 88.5, "l"),
              ("settembre hanno dato il loro contributo", 105, "l"),
              ("per il mantenimento  del sito e il suo", 121.5, "l"),
              ("futuro aggiornamento.", 138, "l"),
              ("Grazie", 154, "c")]
for txt, yy, al in cyan_lines:
    if al == "c":
        fig.text(470 / W, 1 - yy / H, txt, ha="center", va="center",
                 fontsize=9.3, family=NARROW, weight="bold", color="#111111", zorder=21)
    else:
        fig.text(357 / W, 1 - yy / H, txt, ha="left", va="center",
                 fontsize=9.3, family=NARROW, weight="bold", color="#111111", zorder=21)

fig_box(1093, 14, 1521, 88, "#ffff00", 2.5)
yellow_lines = ["Brunello in consolidamento anche oggi.",
                "Stop profit sotto i 101 e lasciamo sempre correre il buy",
                "in essere dato che il titolo ha la possibilità di riprendere",
                "il rally."]
for k, txt in enumerate(yellow_lines):
    fig.text(1097 / W, 1 - (23 + 19 * k) / H, txt, ha="left", va="center",
             fontsize=11.3, weight="bold", color="#111111", zorder=21)

fig_box(1528, 590.5, 1770, 604.5, "white", 1.2)
fig.text(1649 / W, 1 - 597.5 / H, "COPYRIGHT@ LABORSADEIPICCOLI.COM",
         ha="center", va="center", fontsize=7.4, weight="bold",
         color="black", zorder=21)

fig.savefig("out.png", dpi=100, facecolor="white")
